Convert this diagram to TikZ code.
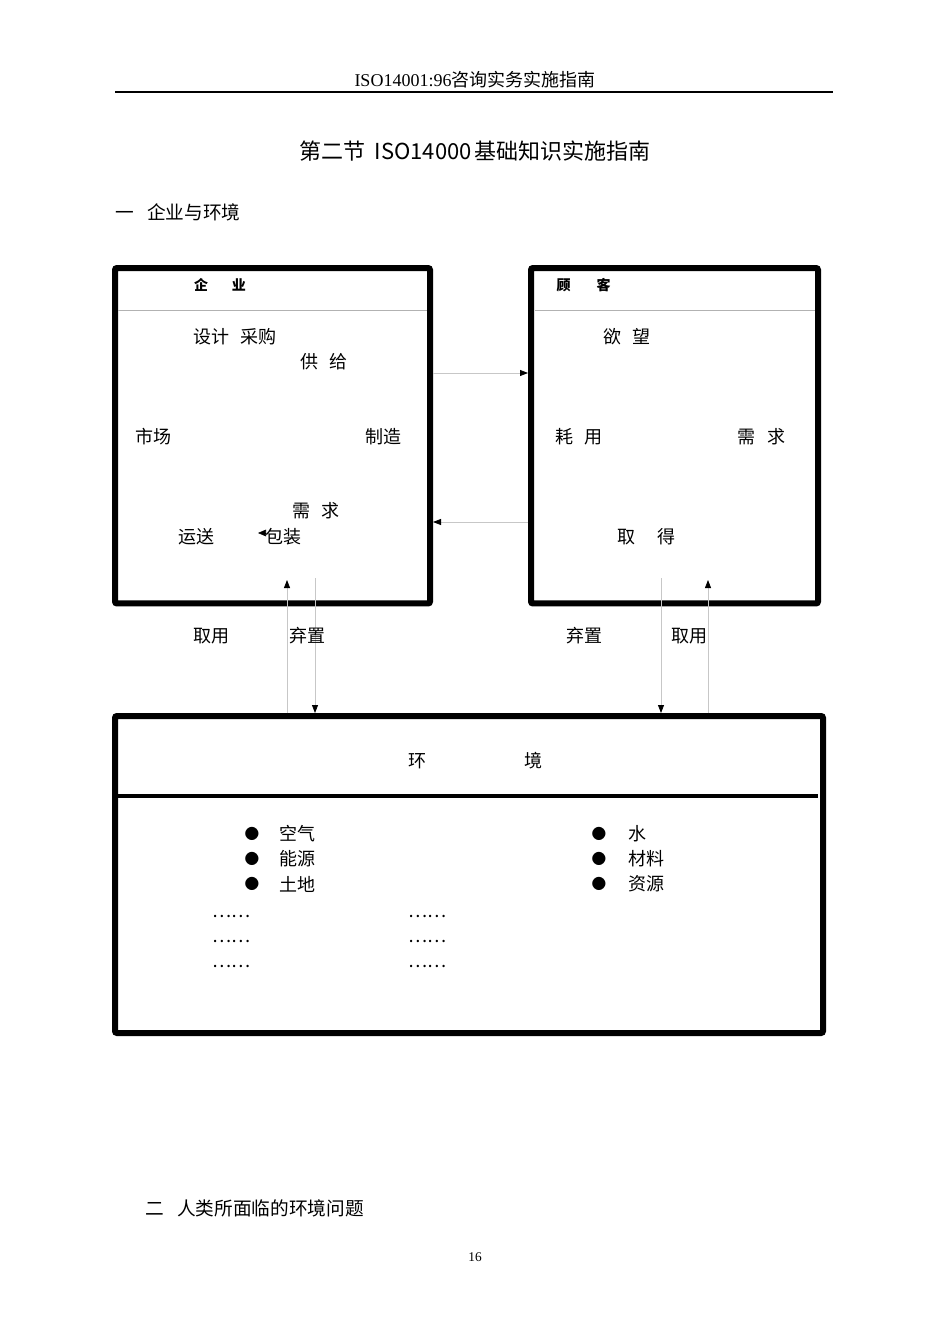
\documentclass[tikz,border=0pt]{standalone}
\usepackage{fontspec}
\setmainfont{Liberation Serif}
\newfontfamily\cjk{Noto Sans CJK SC}
\usetikzlibrary{arrows.meta}
\newcommand\wsp{\hspace{9pt}}
\tikzset{ frm/.style = { rectangle % box frame
        , draw
        , line width = 4.5pt
        , rounded corners = 1.5pt
        , inner sep = 0pt
        }
        , lbl/.style = { inner sep = 0pt % plain text
        , font = \cjk\fontsize{13.5}{16}\selectfont
        }
        , hdr/.style = { inner sep = 0pt % box heading
        , font = \cjk\bfseries\fontsize{10.5}{12}\selectfont
        }
        , blt/.style = { inner sep = 0pt % bullet
        , font = \cjk\fontsize{11}{12}\selectfont
        }
        }

\begin{document}
\begin{tikzpicture}[x=0.75pt, y=-0.75pt,
        flow_style/.style={draw=black!22, line width=0.6pt, -{Triangle[length=6pt,width=4.5pt,color=black]}},
        rule_style/.style={draw=black!30, line width=0.6pt},
        dot_style/.style={lbl, anchor=west}]
        \useasboundingbox (0,0) rectangle (950,1344);

        % page head
        \node [inner sep=0pt, font=\fontsize{13.5}{15}\selectfont] (head) at (475,80) {ISO14001:96{\cjk 咨询实务实施指南}};
        \draw [line width=1.5pt] (115,92) -- (833,92);
        \node [inner sep=0pt, font=\cjk\fontsize{16.5}{18}\selectfont] (title) at (475,151) {第二节\hspace{7pt}ISO14000\hspace{2pt}基础知识实施指南};
        \node [inner sep=0pt, anchor=west, font=\cjk\fontsize{14}{16}\selectfont] (sec1) at (115,212) {一\hspace{10pt}企业与环境};

        % boxes
        \node [frm, minimum width=236.25pt, minimum height=251.6pt] (ent) at (272.5,435.75) {};
        \node [frm, minimum width=215.25pt, minimum height=251.6pt] (cust) at (674.5,435.75) {};
        \node [frm, minimum width=531pt, minimum height=237.75pt] (env) at (469,874.5) {};
        \draw [rule_style] (118,310) -- (427,310);
        \draw [rule_style] (535,310) -- (815,310);
        \draw [line width=3pt] (118,796) -- (818,796);

        \node [hdr] (enthd) at (220,285) {企\hspace{18pt}业};
        \node [hdr] (custhd) at (583.5,285) {顾\hspace{19.5pt}客};
        \node [lbl] (env_hd) at (475.5,761) {环\hspace{73pt}境};

        % enterprise
        \node [lbl] (design) at (235,337) {设计\wsp 采购};
        \node [lbl] (supply) at (324,362) {供\wsp 给};
        \node [lbl] (market) at (153.5,437) {市场};
        \node [lbl] (make) at (383,437) {制造};
        \node [lbl] (dem) at (316,511) {需\wsp 求};
        \node [lbl] (ship) at (196.5,537) {运送};
        \node [lbl] (pack) at (283.5,537) {包装};
        \coordinate (packtip) at (258,533);
        \draw [-{Triangle[length=6pt,width=5pt]}] (pack.west |- packtip) -- (packtip);

        % customer
        \node [lbl] (want) at (627,337) {欲\wsp 望};
        \node [lbl] (use) at (579,437) {耗\wsp 用};
        \node [lbl] (need) at (761.5,437) {需\wsp 求};
        \node [lbl] (get) at (646.5,537) {取\hspace{16pt}得};

        % flows between boxes
        \coordinate (give) at (480,373);
        \coordinate (back) at (480,522);
        \draw [flow_style] (ent.east |- give) -- (cust.west |- give);
        \draw [flow_style] (cust.west |- back) -- (ent.east |- back);

        \coordinate (up1) at (287,580);
        \coordinate (dn1) at (315,578);
        \coordinate (dn2) at (661,578);
        \coordinate (up2) at (708,580);
        \draw [flow_style] (env.north -| up1) -- (up1);
        \draw [flow_style] (dn1) -- (env.north -| dn1);
        \draw [flow_style] (dn2) -- (env.north -| dn2);
        \draw [flow_style] (env.north -| up2) -- (up2);
        \node [lbl] (take1) at (211,636) {取用};
        \node [lbl] (dump1) at (307,636) {弃置};
        \node [lbl] (dump2) at (584,636) {弃置};
        \node [lbl] (take2) at (689,636) {取用};

        % environment
        \node [blt] (b1) at (252,834) {●};
        \node [blt] (b2) at (252,859) {●};
        \node [blt] (b3) at (252,884) {●};
        \node [dot_style] (air) at (279,834) {空气};
        \node [dot_style] (energy) at (279,859) {能源};
        \node [dot_style] (land) at (279,884) {土地};
        \node [blt] (b4) at (599,834) {●};
        \node [blt] (b5) at (599,859) {●};
        \node [blt] (b6) at (599,884) {●};
        \node [dot_style] (water) at (628,834) {水};
        \node [dot_style] (mat) at (628,859) {材料};
        \node [dot_style] (res) at (628,884) {资源};
        \node [dot_style] (e1) at (212,916) {……};
        \node [dot_style] (e2) at (212,941) {……};
        \node [dot_style] (e3) at (212,966) {……};
        \node [dot_style] (e4) at (408,916) {……};
        \node [dot_style] (e5) at (408,941) {……};
        \node [dot_style] (e6) at (408,966) {……};

        % foot
        \node [inner sep=0pt, anchor=west, font=\cjk\fontsize{14}{16}\selectfont] (sec2) at (145,1208) {二\hspace{10pt}人类所面临的环境问题};
        \node [inner sep=0pt, font=\fontsize{10}{12}\selectfont] (page) at (475,1257) {16};
\end{tikzpicture}
\end{document}
